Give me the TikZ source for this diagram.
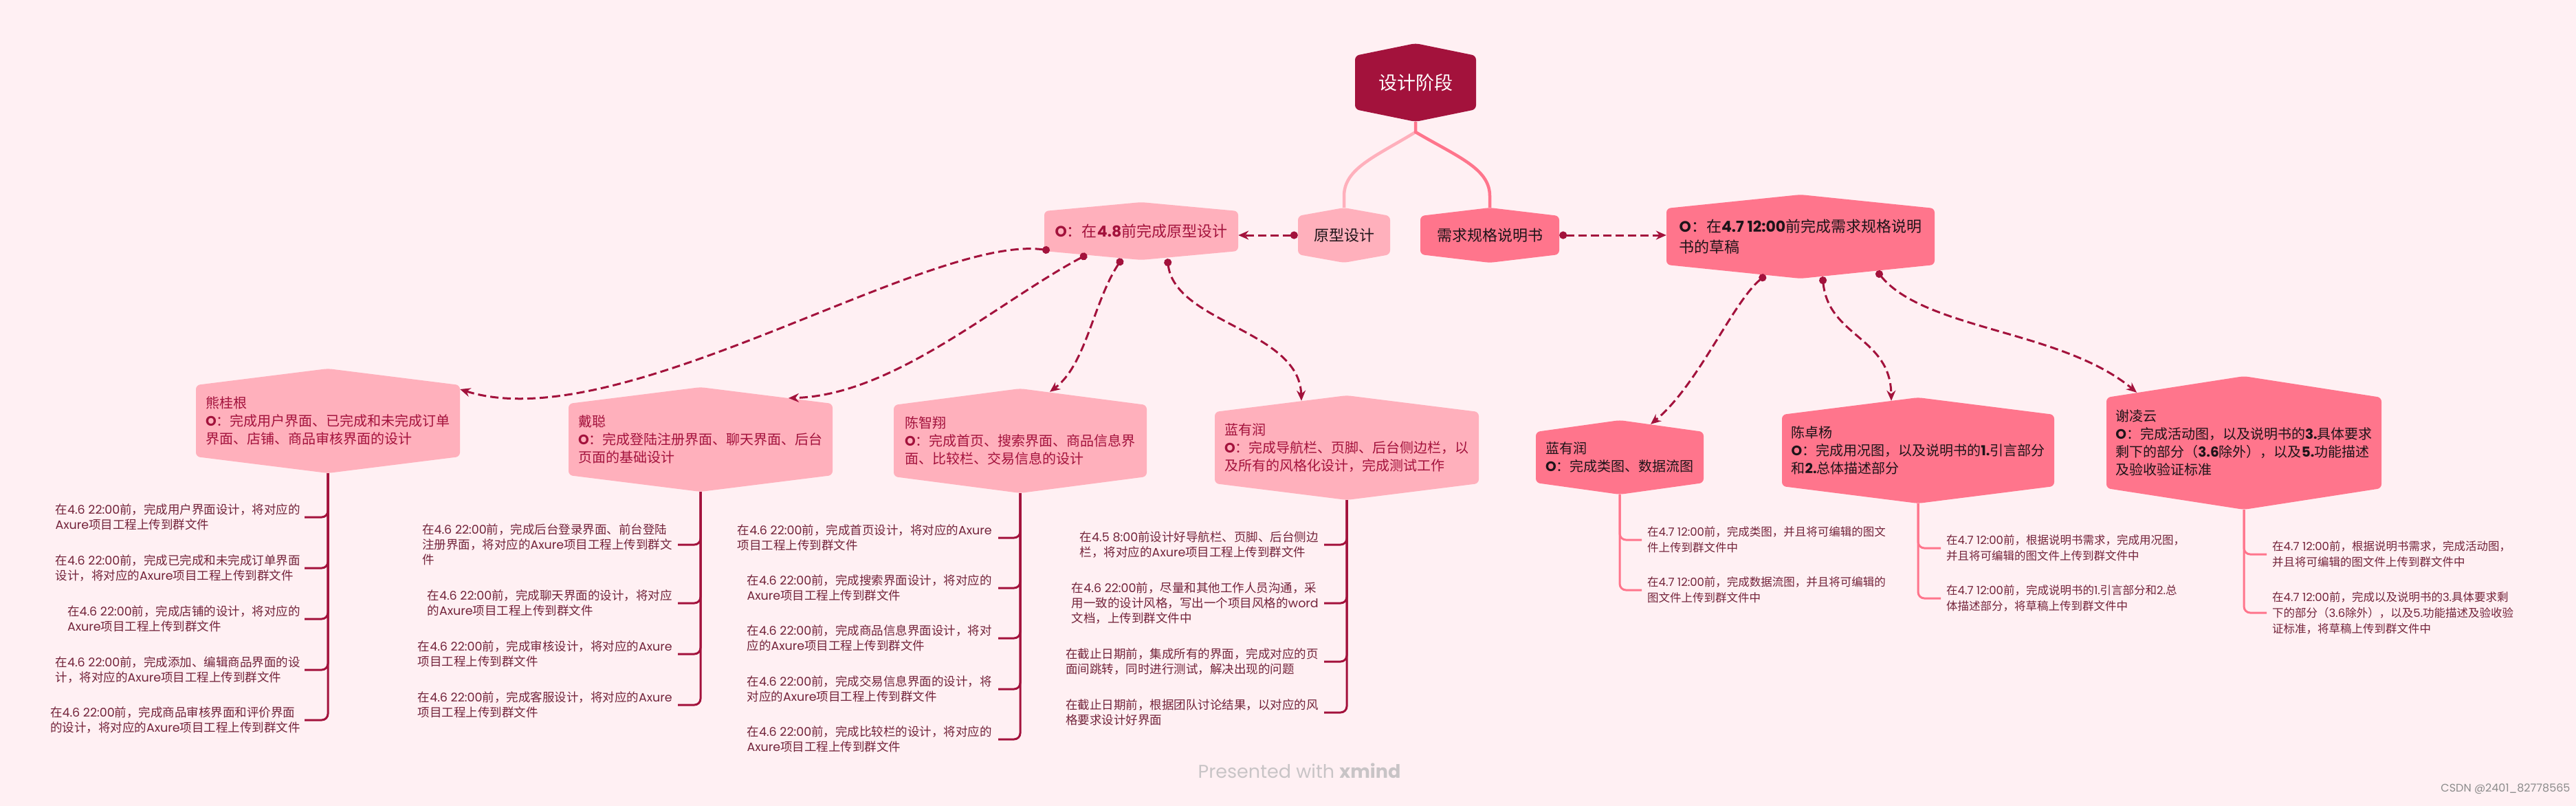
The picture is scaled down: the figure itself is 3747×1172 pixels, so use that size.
\documentclass[tikz,border=0pt]{standalone}
\usepackage{fontspec}
\setmainfont{Poppins}
\newfontfamily\cjkfont{Noto Sans CJK SC}
\usetikzlibrary{arrows.meta,calc}
\XeTeXinterchartokenstate=1
\newXeTeXintercharclass\cjkcls
\newcount\cjkc
\def\setcjkrange#1#2{\cjkc=#1\relax\loop\XeTeXcharclass\cjkc=\cjkcls\advance\cjkc by 1\relax\ifnum\cjkc<#2\repeat}
\setcjkrange{"3000}{"3040}
\setcjkrange{"4E00}{"A000}
\setcjkrange{"FF00}{"FFF0}
\XeTeXinterchartoks 0 \cjkcls = {\cjkfont}
\XeTeXinterchartoks 4095 \cjkcls = {\cjkfont}
\XeTeXinterchartoks \cjkcls 0 = {\rmfamily}
\XeTeXinterchartoks 4095 0 = {\rmfamily}
\definecolor{bg}{RGB}{255,240,243}
\definecolor{crim}{RGB}{163,18,60}
\definecolor{pinkl}{RGB}{255,176,188}
\definecolor{pinkm}{RGB}{255,117,140}
\definecolor{subtxt}{RGB}{115,35,58}
\definecolor{dark}{RGB}{30,20,25}
\definecolor{wm}{RGB}{200,196,198}
\newcommand\fs[2]{\fontsize{#1}{#2}\selectfont}
\newcommand{\hexnode}[8]{%
  \fill[#7, rounded corners=6pt] ({#2-#4},{#3-#5}) -- (#2,{#3-#5-#6}) -- ({#2+#4},{#3-#5}) -- ({#2+#4},{#3+#5}) -- (#2,{#3+#5+#6}) -- ({#2-#4},{#3+#5}) -- cycle;
  \node[#7, fill=none, align=left, inner sep=0pt, minimum width={2*#4pt}, minimum height={2*(#5+#6)*1pt}] (#1) at (#2,#3) {#8};
}
\tikzset{
  rootst/.style={fill=crim, text=white, font=\fs{27}{32}},
  yxst/.style={fill=pinkl, text=dark, font=\fs{22}{28}},
  xqst/.style={fill=pinkm, text=dark, font=\fs{22}{28}},
  olst/.style={fill=pinkl, text=crim, font=\fs{22}{28}},
  orst/.style={fill=pinkm, text=dark, font=\fs{22}{30}},
  lkid/.style={fill=pinkl, text=crim, font=\fs{20}{26}},
  rkid/.style={fill=pinkm, text=dark, font=\fs{20}{26}},
  subL/.style={font=\fs{17.5}{22}, text=subtxt, align=left, inner sep=0pt, anchor=east},
  subR/.style={font=\fs{16.5}{23}, text=subtxt, align=left, inner sep=0pt, anchor=west},
  brkL/.style={draw=crim, line width=3pt, rounded corners=9pt},
  brkR/.style={draw=pinkm, line width=3pt, rounded corners=9pt},
  rel/.style={draw=crim, line width=3pt, dash pattern=on 12pt off 6pt, {Circle[length=11pt]}-{Stealth[length=15pt,width=13pt]}},
}
\begin{document}
\begin{tikzpicture}[x=1pt,y=-1pt]
\fill[bg] (0,0) rectangle (3747,1172);
\useasboundingbox (0,0) rectangle (3747,1172);
% main nodes
\hexnode{root}{2059}{120}{88}{39}{18}{rootst}{设计阶段}
\hexnode{yx}{1955}{342}{67}{28}{12}{yxst}{原型设计}
\hexnode{xq}{2167}{342}{101}{28}{12}{xqst}{需求规格说明书}
\hexnode{oleft}{1660}{336}{141}{29}{13}{olst}{{\bfseries O}：在{\bfseries 4.8}前完成原型设计}
\hexnode{oright}{2619}{344}{195}{41}{20}{orst}{{\bfseries O}：在{\bfseries 4.7 12:00}前完成需求规格说明\\书的草稿}
% root branches
\draw[pinkl, line width=4.5pt] (2059,192) .. controls (2000,228) and (1955,245) .. (1955,285) -- (yx.north);
\draw[pinkm, line width=4.5pt] (root.south) -- (2059,192) .. controls (2120,228) and (2167,245) .. (2167,285) -- (xq.north);
% children
\hexnode{xgg}{477}{612}{192}{52}{24}{lkid}{熊桂根\\{\bfseries O}：完成用户界面、已完成和未完成订单\\界面、店铺、商品审核界面的设计}
\hexnode{dc}{1019}{639}{192}{52}{24}{lkid}{戴聪\\{\bfseries O}：完成登陆注册界面、聊天界面、后台\\页面的基础设计}
\hexnode{czx}{1484}{641}{184}{52}{24}{lkid}{陈智翔\\{\bfseries O}：完成首页、搜索界面、商品信息界\\面、比较栏、交易信息的设计}
\hexnode{lyl}{1959}{651}{192}{52}{24}{lkid}{蓝有润\\{\bfseries O}：完成导航栏、页脚、后台侧边栏，以\\及所有的风格化设计，完成测试工作}
\hexnode{lyr}{2356}{665}{122}{37}{17}{rkid}{蓝有润\\{\bfseries O}：完成类图、数据流图}
\hexnode{czy}{2790}{655}{198}{52}{25}{rkid}{陈卓杨\\{\bfseries O}：完成用况图，以及说明书的{\bfseries 1.}引言部分\\和{\bfseries 2.}总体描述部分}
\hexnode{xly}{3264}{644}{200}{66}{31}{rkid}{谢凌云\\{\bfseries O}：完成活动图，以及说明书的{\bfseries 3.}具体要求\\剩下的部分（{\bfseries 3.6}除外），以及{\bfseries 5.}功能描述\\及验收验证标准}
% relations
\draw[rel] (yx.west) -- (yx.west -| oleft.east);
\draw[rel] (xq.east) -- (xq.east -| oright.west);
\draw[rel] ($(oleft.south)+(-133,-14)$) .. controls (1350,340) and (900,640) .. ($(xgg.east)+(0,-46)$);
\draw[rel] ($(oleft.south)+(-79,-8)$) .. controls (1450,440) and (1300,575) .. ($(dc.north)+(128,16)$);
\draw[rel] ($(oleft.south)+(-28,-2)$) .. controls (1590,440) and (1580,530) .. ($(czx.north)+(43,5)$);
\draw[rel] ($(oleft.south)+(38,-2)$) .. controls (1710,470) and (1890,480) .. ($(lyl.north)+(-66,8)$);
\draw[rel] ($(oright.south)+(-51,-5)$) .. controls (2520,440) and (2470,560) .. ($(lyr.north)+(45,6)$);
\draw[rel] ($(oright.south)+(32,-3)$) .. controls (2660,490) and (2750,490) .. ($(czy.north)+(-39,5)$);
\draw[rel] ($(oright.south)+(111,-11)$) .. controls (2800,480) and (3000,480) .. ($(xly.north)+(-156,24)$);
% sub items: xgg
\node[subL] (x1) at (437,752) {在4.6 22:00前，完成用户界面设计，将对应的\\Axure项目工程上传到群文件};
\node[subL] (x2) at (437,826) {在4.6 22:00前，完成已完成和未完成订单界面\\设计，将对应的Axure项目工程上传到群文件};
\node[subL] (x3) at (437,900) {在4.6 22:00前，完成店铺的设计，将对应的\\Axure项目工程上传到群文件};
\node[subL] (x4) at (437,974) {在4.6 22:00前，完成添加、编辑商品界面的设\\计，将对应的Axure项目工程上传到群文件};
\node[subL] (x5) at (437,1047) {在4.6 22:00前，完成商品审核界面和评价界面\\的设计，将对应的Axure项目工程上传到群文件};
\foreach \t in {x1,x2,x3,x4,x5} \draw[brkL] (xgg.south) |- ([xshift=6pt]\t.east);
% dc
\node[subL] (d1) at (978,792) {在4.6 22:00前，完成后台登录界面、前台登陆\\注册界面，将对应的Axure项目工程上传到群文\\件};
\node[subL] (d2) at (978,877) {在4.6 22:00前，完成聊天界面的设计，将对应\\的Axure项目工程上传到群文件};
\node[subL] (d3) at (978,951) {在4.6 22:00前，完成审核设计，将对应的Axure\\项目工程上传到群文件};
\node[subL] (d4) at (978,1025) {在4.6 22:00前，完成客服设计，将对应的Axure\\项目工程上传到群文件};
\foreach \t in {d1,d2,d3,d4} \draw[brkL] (dc.south) |- ([xshift=8pt]\t.east);
% czx
\node[subL] (c1) at (1443,782) {在4.6 22:00前，完成首页设计，将对应的Axure\\项目工程上传到群文件};
\node[subL] (c2) at (1443,855) {在4.6 22:00前，完成搜索界面设计，将对应的\\Axure项目工程上传到群文件};
\node[subL] (c3) at (1443,928) {在4.6 22:00前，完成商品信息界面设计，将对\\应的Axure项目工程上传到群文件};
\node[subL] (c4) at (1443,1002) {在4.6 22:00前，完成交易信息界面的设计，将\\对应的Axure项目工程上传到群文件};
\node[subL] (c5) at (1443,1075) {在4.6 22:00前，完成比较栏的设计，将对应的\\Axure项目工程上传到群文件};
\foreach \t in {c1,c2,c3,c4,c5} \draw[brkL] (czx.south) |- ([xshift=9pt]\t.east);
% lyl
\node[subL] (l1) at (1918,792) {在4.5 8:00前设计好导航栏、页脚、后台侧边\\栏，将对应的Axure项目工程上传到群文件};
\node[subL] (l2) at (1918,877) {在4.6 22:00前，尽量和其他工作人员沟通，采\\用一致的设计风格，写出一个项目风格的word\\文档，上传到群文件中};
\node[subL] (l3) at (1918,962) {在截止日期前，集成所有的界面，完成对应的页\\面间跳转，同时进行测试，解决出现的问题};
\node[subL] (l4) at (1918,1036) {在截止日期前，根据团队讨论结果，以对应的风\\格要求设计好界面};
\foreach \t in {l1,l2,l3,l4} \draw[brkL] (lyl.south) |- ([xshift=8pt]\t.east);
% right subs
\node[subR] (r1) at (2396,785) {在4.7 12:00前，完成类图，并且将可编辑的图文\\件上传到群文件中};
\node[subR] (r2) at (2396,858) {在4.7 12:00前，完成数据流图，并且将可编辑的\\图文件上传到群文件中};
\foreach \t in {r1,r2} \draw[brkR] (lyr.south) |- ([xshift=-8pt]\t.west);
\node[subR] (z1) at (2831,797) {在4.7 12:00前，根据说明书需求，完成用况图，\\并且将可编辑的图文件上传到群文件中};
\node[subR] (z2) at (2831,870) {在4.7 12:00前，完成说明书的1.引言部分和2.总\\体描述部分，将草稿上传到群文件中};
\foreach \t in {z1,z2} \draw[brkR] (czy.south) |- ([xshift=-8pt]\t.west);
\node[subR] (y1) at (3305,806) {在4.7 12:00前，根据说明书需求，完成活动图，\\并且将可编辑的图文件上传到群文件中};
\node[subR] (y2) at (3305,891) {在4.7 12:00前，完成以及说明书的3.具体要求剩\\下的部分（3.6除外），以及5.功能描述及验收验\\证标准，将草稿上传到群文件中};
\foreach \t in {y1,y2} \draw[brkR] (xly.south) |- ([xshift=-8pt]\t.west);
% watermarks
\node[font=\fs{27}{32}, text=wm] (wmk) at (1890,1121) {Presented with {\bfseries xmind}};
\node[font=\fs{16}{20}, text=black!45, anchor=east] (csdn) at (3742,1147) {CSDN @2401\_82778565};
\end{tikzpicture}
\end{document}
